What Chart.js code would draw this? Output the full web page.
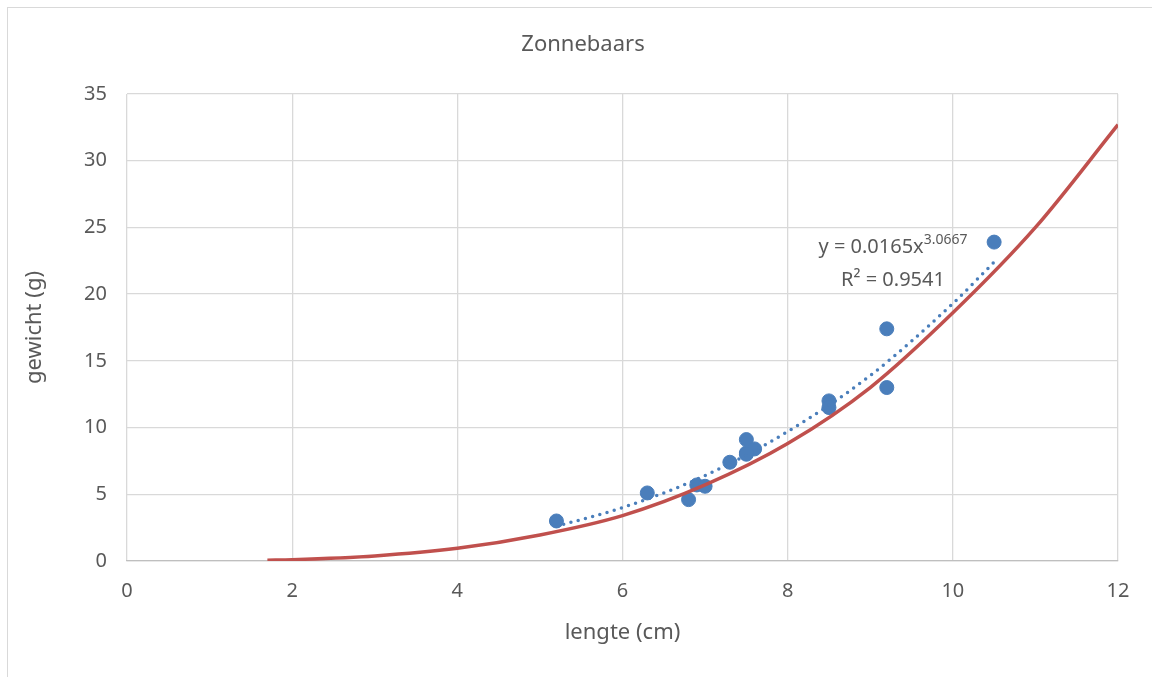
<!DOCTYPE html>
<html>
<head>
<meta charset="utf-8">
<script src="https://cdn.jsdelivr.net/npm/chart.js@4"></script>
<style>
html,body{margin:0;padding:0;background:#fff;}
#wrap{position:absolute;left:0;top:0;width:1152px;height:677px;}
</style>
</head>
<body>
<div id="wrap"><canvas id="c" width="1152" height="677"></canvas></div>
<script>
// Observed measurements (lengte cm, gewicht g)
const lengths = [5.2, 6.3, 6.8, 6.9, 7.0, 7.3, 7.5, 7.5, 7.6, 7.5, 8.5, 8.5, 9.2, 9.2, 10.5];
const weights = [3.0, 5.1, 4.6, 5.7, 5.6, 7.4, 9.1, 8.1, 8.4, 8.0, 12.0, 11.5, 17.4, 13.0, 23.9];

// Red model curve
const curveX = [1.7, 2, 3, 4, 5, 6, 7, 8, 9, 10, 11, 12];
const curveY = [0.06, 0.10, 0.38, 0.95, 1.95, 3.4, 5.7, 8.8, 13.0, 18.6, 25.0, 32.7];

// Dotted trend line
const trendX = [5.2, 6, 7, 8, 9, 10, 10.5];
const trendY = [2.6, 4.0, 6.4, 9.7, 13.9, 19.3, 22.4];

const xTicks = [0, 2, 4, 6, 8, 10, 12];
const yTicks = [0, 5, 10, 15, 20, 25, 30, 35];

const chartTitle = 'Zonnebaars';
const xTitle = 'lengte (cm)';
const yTitle = 'gewicht (g)';
const eqMain = 'y = 0.0165x';
const eqExp = '3.0667';
const eqR2 = 'R² = 0.9541';

const FONT = '"Noto Sans", "Open Sans", sans-serif';
const TXT = '#595959';

const pts = lengths.map((x, i) => ({x, y: weights[i]}));
const curve = curveX.map((x, i) => ({x, y: curveY[i]}));
const trend = trendX.map((x, i) => ({x, y: trendY[i]}));

const decor = {
  id: 'decor',
  beforeDraw(chart) {
    const ctx = chart.ctx;
    ctx.save();
    ctx.fillStyle = '#fff';
    ctx.fillRect(0, 0, chart.width, chart.height);
    ctx.strokeStyle = '#d9d9d9';
    ctx.lineWidth = 1;
    ctx.strokeRect(7.5, 7.5, 1160, 700);
    ctx.restore();
  },
  afterDraw(chart) {
    const ctx = chart.ctx;
    const ca = chart.chartArea;
    ctx.save();
    ctx.fillStyle = TXT;
    ctx.textBaseline = 'middle';
    ctx.textAlign = 'center';
    ctx.font = '22px ' + FONT;
    ctx.fillText(chartTitle, 583, 45);
    ctx.font = '22px ' + FONT;
    ctx.fillText(xTitle, (ca.left + ca.right) / 2, 633);
    ctx.save();
    ctx.translate(35, (ca.top + ca.bottom) / 2);
    ctx.rotate(-Math.PI / 2);
    ctx.fillText(yTitle, 0, 0);
    ctx.restore();
    // trend equation
    ctx.textAlign = 'left';
    ctx.font = '20px ' + FONT;
    const mainW = ctx.measureText(eqMain).width;
    ctx.font = '14px ' + FONT;
    const expW = ctx.measureText(eqExp).width;
    const total = mainW + expW;
    const cx = 893;
    let x0 = cx - total / 2;
    ctx.font = '20px ' + FONT;
    ctx.fillText(eqMain, x0, 247);
    ctx.font = '14px ' + FONT;
    ctx.fillText(eqExp, x0 + mainW, 240);
    ctx.textAlign = 'center';
    ctx.font = '20px ' + FONT;
    ctx.fillText(eqR2, cx, 280);
    ctx.restore();
  }
};

new Chart(document.getElementById('c'), {
  type: 'scatter',
  data: {
    datasets: [
      {
        type: 'line',
        label: 'model',
        data: curve,
        borderColor: '#c0504d',
        borderWidth: 3.5,
        pointRadius: 0,
        cubicInterpolationMode: 'monotone',
        fill: false,
        order: 1
      },
      {
        type: 'line',
        label: 'trend',
        data: trend,
        borderColor: '#4a7ebb',
        borderWidth: 3.5,
        borderDash: [0, 7.5],
        borderCapStyle: 'round',
        pointRadius: 0,
        cubicInterpolationMode: 'monotone',
        fill: false,
        order: 2
      },
      {
        label: 'gewicht',
        data: pts,
        backgroundColor: '#4a7ebb',
        borderColor: '#4a7ebb',
        pointRadius: 7,
        pointHoverRadius: 7,
        order: 3
      }
    ]
  },
  options: {
    responsive: false,
    animation: false,
    events: [],
    layout: {padding: {left: 0, right: 34, top: 94, bottom: 0}},
    plugins: {legend: {display: false}, title: {display: false}, tooltip: {enabled: false}},
    scales: {
      x: {
        type: 'linear',
        min: 0, max: 12,
        afterBuildTicks(s) { s.ticks = xTicks.map(v => ({value: v})); },
        afterFit(s) { s.height = 116; },
        grid: {color: '#d9d9d9', lineWidth: 1.3, drawTicks: false},
        border: {color: '#bfbfbf', width: 1.3},
        ticks: {color: TXT, font: {family: FONT, size: 20}, padding: 18}
      },
      y: {
        type: 'linear',
        min: 0, max: 35,
        afterBuildTicks(s) { s.ticks = yTicks.map(v => ({value: v})); },
        afterFit(s) { s.width = 127; },
        grid: {color: '#d9d9d9', lineWidth: 1.3, drawTicks: false},
        border: {display: false},
        ticks: {color: TXT, font: {family: FONT, size: 20}, padding: 20}
      }
    }
  },
  plugins: [decor]
});
</script>
</body>
</html>
